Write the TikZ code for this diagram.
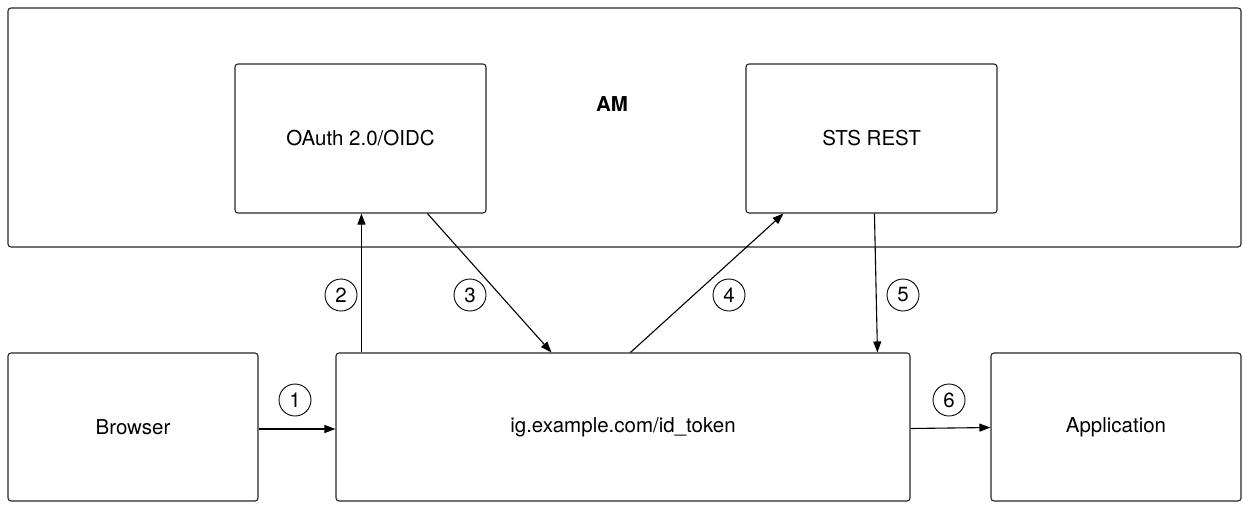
\documentclass[tikz,border=0pt]{standalone}
\usepackage{fontspec}
\setmainfont{TeX Gyre Heros}
\usetikzlibrary{arrows.meta,calc}
\begin{document}
\begin{tikzpicture}[x=1pt,y=-1pt,
  box/.style={draw=black!85,line width=1.1pt,rounded corners=3pt,rectangle,inner sep=0pt,font=\fontsize{20.5}{24}\selectfont},
  num/.style={draw=black,line width=0.9pt,circle,minimum size=32pt,inner sep=0pt,font=\fontsize{20.5}{24}\selectfont},
  flow/.style={line width=1.1pt,-{Triangle[length=11pt,width=8pt]}}]
\useasboundingbox (0,0) rectangle (1243,504);
\node[box,minimum width=1233pt,minimum height=239pt] (am) at (624.5,127.5) {};
\node[font=\fontsize{20.5}{24}\selectfont\bfseries] (amlabel) at (612,104) {AM};
\node[box,minimum width=251pt,minimum height=149pt] (oauth) at (360.5,138.5) {OAuth 2.0/OIDC};
\node[box,minimum width=251pt,minimum height=149pt] (sts) at (871.5,138.5) {STS REST};
\node[box,minimum width=250pt,minimum height=148pt] (browser) at (133,427) {Browser};
\node[box,minimum width=574pt,minimum height=148pt] (ig) at (623,427) {ig.example.com/id\_token};
\node[box,minimum width=250pt,minimum height=148pt] (app) at (1116,427) {Application};
\draw[flow] ($(browser.east)+(0,2)$) -- ($(ig.west)+(0,2)$);
\draw[flow] ($(ig.north west)+(26,0)$) -- ($(oauth.south west)+(127,0)$);
\draw[flow] ($(oauth.south west)+(193,0)$) -- ($(ig.north west)+(216,0)$);
\draw[flow] ($(ig.north west)+(295,0)$) -- ($(sts.south west)+(38,0)$);
\draw[flow] ($(sts.south west)+(129,0)$) -- ($(ig.north west)+(542,0)$);
\draw[flow] ($(ig.east)+(0,1.5)$) -- ($(app.west)+(0,0.5)$);
\node[num] (n1) at (295,400) {1};
\node[num] (n2) at (341,295) {2};
\node[num] (n3) at (470,295) {3};
\node[num] (n4) at (729,295) {4};
\node[num] (n5) at (903,295) {5};
\node[num] (n6) at (949,400) {6};
\end{tikzpicture}
\end{document}
